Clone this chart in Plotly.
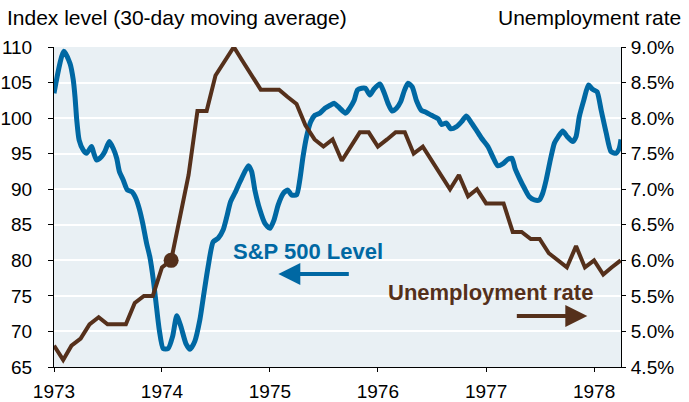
import plotly.graph_objects as go
import pandas as pd

# ---------------- data ----------------
sp_dates = [
    "1973-01-01", "1973-02-03", "1973-02-24", "1973-03-07", "1973-03-13", "1973-03-19",
    "1973-03-27", "1973-04-10", "1973-04-21", "1973-05-08", "1973-05-16", "1973-05-25",
    "1973-06-11", "1973-06-22", "1973-07-07", "1973-07-20", "1973-08-01", "1973-08-10",
    "1973-08-23", "1973-09-06", "1973-09-21", "1973-10-05", "1973-10-16", "1973-10-28",
    "1973-11-10", "1973-11-21", "1973-12-03", "1973-12-12", "1973-12-23", "1974-01-05",
    "1974-01-22", "1974-02-06", "1974-02-20", "1974-03-06", "1974-03-23", "1974-04-06",
    "1974-04-22", "1974-05-09", "1974-05-23", "1974-06-06", "1974-06-23", "1974-07-10",
    "1974-07-27", "1974-08-08", "1974-08-21", "1974-09-05", "1974-09-19", "1974-09-27",
    "1974-10-20", "1974-10-31", "1974-11-11", "1974-11-28", "1974-12-15", "1975-01-01",
    "1975-01-15", "1975-01-29", "1975-02-15", "1975-03-02", "1975-03-15", "1975-04-01",
    "1975-04-12", "1975-04-23", "1975-05-05", "1975-05-19", "1975-06-02", "1975-06-19",
    "1975-07-06", "1975-07-23", "1975-08-06", "1975-08-20", "1975-09-14", "1975-09-28",
    "1975-10-13", "1975-10-24", "1975-11-07", "1975-11-20", "1975-12-05", "1975-12-19",
    "1976-01-08", "1976-01-22", "1976-02-05", "1976-02-18", "1976-03-04", "1976-03-18",
    "1976-03-30", "1976-04-12", "1976-04-26", "1976-05-11", "1976-05-27", "1976-06-08",
    "1976-06-30", "1976-07-23", "1976-08-03", "1976-08-20", "1976-09-03", "1976-09-23",
    "1976-10-10", "1976-10-26", "1976-11-12", "1976-11-29", "1976-12-16", "1977-01-07",
    "1977-01-23", "1977-02-09", "1977-02-26", "1977-03-15", "1977-03-29", "1977-04-09",
    "1977-04-24", "1977-05-11", "1977-05-27", "1977-06-13", "1977-06-30", "1977-07-11",
    "1977-07-23", "1977-08-06", "1977-08-20", "1977-09-02", "1977-09-17", "1977-10-02",
    "1977-10-21", "1977-11-01", "1977-11-12", "1977-11-27", "1977-12-13", "1977-12-27",
    "1978-01-11", "1978-01-25", "1978-02-11", "1978-02-27", "1978-03-16", "1978-03-27",
    "1978-04-02",
]
sp_level = [
    103.5, 109.4, 107.7, 105.4, 103.0, 99.7,
    96.9, 95.5, 95.05, 96.0, 95.0, 94.1,
    94.6, 95.3, 96.7, 95.75, 94.35, 92.5,
    91.3, 89.9, 89.65, 88.7, 87.3, 85.2,
    82.4, 80.5, 77.2, 74.0, 70.2, 67.6,
    67.6, 69.3, 72.2, 70.7, 68.3, 67.5,
    68.6, 71.6, 75.4, 79.1, 82.6, 83.1,
    84.3, 86.1, 88.25, 89.5, 90.8, 91.5,
    93.3, 92.5, 89.9, 87.1, 85.2, 84.5,
    85.7, 87.8, 89.4, 89.9, 89.2, 89.2,
    91.3, 94.6, 97.4, 99.5, 100.4, 100.7,
    101.4, 101.8, 102.1, 101.6, 100.7, 101.4,
    102.5, 103.95, 104.2, 104.2, 103.25, 104.1,
    104.8, 103.6, 102.0, 101.0, 101.4, 102.3,
    103.8, 104.9, 104.4, 102.4, 101.1, 100.9,
    100.4, 99.9, 99.1, 99.3, 98.5, 98.8,
    99.5, 100.3, 99.35, 98.3, 97.2, 96.0,
    94.6, 93.3, 93.55, 94.2, 94.35, 92.9,
    91.5, 90.1, 88.95, 88.5, 88.5, 89.4,
    91.3, 94.1, 96.5, 97.4, 98.2, 97.4,
    96.7, 97.4, 100.2, 102.5, 104.65, 104.05,
    103.7, 101.1, 97.9, 95.3, 95.05, 95.75,
    97.0,
]

unemp_months = pd.date_range("1973-01-01", periods=64, freq="MS")
unemp_rate = [
    4.8, 4.6, 4.8, 4.9, 5.1, 5.2, 5.1, 5.1, 5.1, 5.4, 5.5, 5.5,
    5.9, 6.0, 6.6, 7.2, 8.1, 8.1, 8.6, 8.8, 9.0, 8.8, 8.6, 8.4,
    8.4, 8.4, 8.3, 8.2, 7.9, 7.7, 7.6, 7.7, 7.4, 7.6, 7.8, 7.8,
    7.6, 7.7, 7.8, 7.8, 7.5, 7.6, 7.4, 7.2, 7.0, 7.2, 6.9, 7.0,
    6.8, 6.8, 6.8, 6.4, 6.4, 6.3, 6.3, 6.1, 6.0, 5.9, 6.2, 5.9,
    6.0, 5.8, 5.9, 6.0,
]
marker_date = ["1974-02-01"]
marker_rate = [6.0]

year_ticks = ["1973-01-01", "1974-01-01", "1975-01-01", "1976-01-01", "1977-01-01", "1978-01-01"]
year_labels = ["1973", "1974", "1975", "1976", "1977", "1978"]
left_ticks = [65, 70, 75, 80, 85, 90, 95, 100, 105, 110]
right_ticks = [4.5, 5.0, 5.5, 6.0, 6.5, 7.0, 7.5, 8.0, 8.5, 9.0]
right_labels = ["4.5%", "5.0%", "5.5%", "6.0%", "6.5%", "7.0%", "7.5%", "8.0%", "8.5%", "9.0%"]

# ---------------- style ----------------
BLUE = "#0068A3"
BROWN = "#55301B"
FONT = "Liberation Sans, Arial, sans-serif"

fig = go.Figure()
fig.add_trace(go.Scatter(
    x=sp_dates, y=sp_level, mode="lines", yaxis="y",
    line=dict(color=BLUE, width=5, shape="spline", smoothing=0.6),
    hoverinfo="skip", showlegend=False,
))
fig.add_trace(go.Scatter(
    x=unemp_months, y=unemp_rate, mode="lines", yaxis="y2",
    line=dict(color=BROWN, width=4),
    hoverinfo="skip", showlegend=False,
))
fig.add_trace(go.Scatter(
    x=marker_date, y=marker_rate, mode="markers", yaxis="y2",
    marker=dict(color=BROWN, size=15),
    hoverinfo="skip", showlegend=False,
))

fig.update_layout(
    width=689, height=402,
    margin=dict(l=54, r=68, t=47, b=35),
    paper_bgcolor="white",
    plot_bgcolor="#E9F0F4",
    font=dict(family=FONT, size=19, color="black"),
    xaxis=dict(
        type="date", range=["1973-01-01", "1978-04-02"],
        tickvals=year_ticks, ticktext=year_labels,
        showgrid=False, zeroline=False, automargin=False,
        showline=True, linecolor="black", linewidth=1,
        ticks="outside", ticklen=4, tickcolor="black", tickwidth=1,
        ticklabelstandoff=3,
        tickfont=dict(size=19),
    ),
    yaxis=dict(
        range=[65, 110], tickvals=left_ticks,
        showgrid=True, gridcolor="white", gridwidth=2, zeroline=False,
        automargin=False,
        showline=True, linecolor="black", linewidth=1,
        ticks="outside", ticklen=5, tickcolor="black", tickwidth=1,
        ticklabelstandoff=12,
        tickfont=dict(size=19),
    ),
    yaxis2=dict(
        range=[4.5, 9.0], tickvals=right_ticks, ticktext=right_labels,
        overlaying="y", side="right",
        showgrid=False, zeroline=False, automargin=False,
        showline=True, linecolor="black", linewidth=1,
        ticks="outside", ticklen=4, tickcolor="black", tickwidth=1,
        ticklabelstandoff=1,
        tickfont=dict(size=19),
    ),
)

annotations = [
    dict(text="Index level (30-day moving average)", xref="paper", yref="paper",
         x=-0.086, y=1.05, xanchor="left", yanchor="bottom", showarrow=False,
         font=dict(size=21, color="black")),
    dict(text="Unemployment rate", xref="paper", yref="paper",
         x=1.11, y=1.05, xanchor="right", yanchor="bottom", showarrow=False,
         font=dict(size=21, color="black")),
    dict(text="<b>S&amp;P 500 Level</b>", xref="paper", yref="paper",
         x=0.448, y=0.3625, xanchor="center", yanchor="middle", showarrow=False,
         font=dict(size=22, color=BLUE)),
    dict(text="<b>Unemployment rate</b>", xref="paper", yref="paper",
         x=0.770, y=0.2328, xanchor="center", yanchor="middle", showarrow=False,
         font=dict(size=22, color=BROWN)),
    dict(text="", xref="paper", yref="paper", x=0.3956, y=0.2906,
         ax=72, ay=0, showarrow=True, arrowhead=2, arrowsize=1.1, arrowwidth=4,
         arrowcolor=BLUE, standoff=0),
    dict(text="", xref="paper", yref="paper", x=0.9406, y=0.159,
         ax=-72, ay=0, showarrow=True, arrowhead=2, arrowsize=1.1, arrowwidth=4,
         arrowcolor=BROWN, standoff=0),
]
fig.update_layout(annotations=annotations)

# remove the page's default body margin so the figure sits at the top-left corner
fig.write_html("out.html", config={"displayModeBar": False},
               post_script="document.body.style.margin='0';")
